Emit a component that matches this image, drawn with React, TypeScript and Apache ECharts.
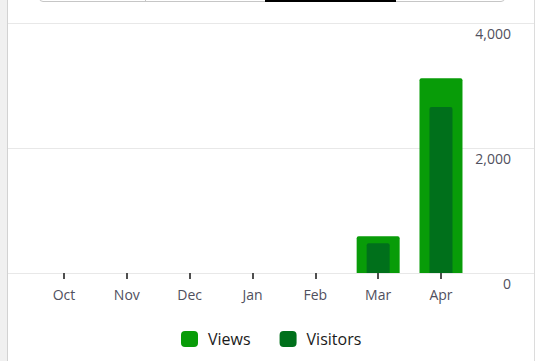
import React, { useEffect, useRef } from "react";
import * as echarts from "echarts";

const months = ["Oct", "Nov", "Dec", "Jan", "Feb", "Mar", "Apr"];
const views = [0, 0, 0, 0, 0, 590, 3115];
const visitors = [0, 0, 0, 0, 0, 478, 2655];
const yTicks = { min: 0, max: 4000, interval: 2000 };

const FONT = "'Open Sans', 'Noto Sans', sans-serif";
const VIEWS_COLOR = "#089c08";
const VISITORS_COLOR = "#00701b";

export default function App() {
  const ref = useRef<HTMLDivElement>(null);

  useEffect(() => {
    if (!ref.current) return;
    const chart = echarts.init(ref.current, undefined, { renderer: "svg" });
    const gridTop = 23;
    const gridHeight = 250;
    chart.setOption({
      animation: false,
      textStyle: { fontFamily: FONT },
      grid: [
        { left: 8, width: 526, top: gridTop, height: gridHeight },
        { left: 32.6, width: 439.8, top: gridTop, height: gridHeight },
      ],
      xAxis: [
        {
          type: "category",
          gridIndex: 0,
          data: months,
          show: false,
        },
        {
          type: "category",
          gridIndex: 1,
          data: months,
          axisLine: { show: false },
          axisTick: {
            show: true,
            alignWithLabel: true,
            length: 6,
            lineStyle: { color: "#4f4f4f", width: 2 },
          },
          axisLabel: {
            color: "#50505e",
            fontSize: 14,
            fontFamily: FONT,
            margin: 14,
          },
          splitLine: { show: false },
        },
        {
          type: "category",
          gridIndex: 1,
          data: months,
          show: false,
        },
      ],
      yAxis: [
        {
          type: "value",
          gridIndex: 0,
          position: "right",
          min: yTicks.min,
          max: yTicks.max,
          interval: yTicks.interval,
          axisLine: { show: false },
          axisTick: { show: false },
          splitLine: { show: true, lineStyle: { color: "#e8e8e8", width: 1 } },
          axisLabel: {
            inside: true,
            margin: 23,
            color: "#50505e",
            fontSize: 14,
            fontFamily: FONT,
            verticalAlign: "top",
            padding: [3, 0, 0, 0],
            formatter: (v: number) => v.toLocaleString("en-US"),
          },
        },
        {
          type: "value",
          gridIndex: 1,
          min: yTicks.min,
          max: yTicks.max,
          interval: yTicks.interval,
          show: false,
          splitLine: { show: false },
        },
      ],
      legend: {
        left: 181,
        top: 331,
        padding: 0,
        icon: "roundRect",
        itemWidth: 17,
        itemHeight: 16,
        itemGap: 29,
        selectedMode: false,
        textStyle: {
          color: "#1a1a1a",
          fontSize: 16,
          fontFamily: FONT,
          padding: [0, 0, 0, 5],
        },
        data: ["Views", "Visitors"],
      },
      series: [
        {
          name: "Views",
          type: "bar",
          xAxisIndex: 1,
          yAxisIndex: 1,
          data: views,
          barWidth: 43,
          itemStyle: { color: VIEWS_COLOR, borderRadius: [2, 2, 0, 0] },
          emphasis: { disabled: true },
          z: 2,
        },
        {
          name: "Visitors",
          type: "bar",
          xAxisIndex: 2,
          yAxisIndex: 1,
          data: visitors,
          barWidth: 23,
          itemStyle: { color: VISITORS_COLOR, borderRadius: [2, 2, 0, 0] },
          emphasis: { disabled: true },
          z: 3,
        },
      ],
    });
    return () => chart.dispose();
  }, []);

  return (
    <div
      style={{
        position: "fixed",
        left: 0,
        top: 0,
        width: 537,
        height: 361,
        background: "#ffffff",
        overflow: "hidden",
      }}
    >
      <div
        style={{
          position: "absolute",
          left: 0,
          top: 0,
          width: 7,
          height: 361,
          background: "#f0f0f0",
          borderRight: "1px solid #d2d2d2",
        }}
      />
      <div
        style={{
          position: "absolute",
          left: 534,
          top: 0,
          width: 1,
          height: 361,
          background: "#dcdcdc",
        }}
      />
      <div
        style={{
          position: "absolute",
          left: 39,
          top: -12,
          width: 464,
          height: 12,
          border: "1px solid #c6c6c6",
          borderRadius: 4,
        }}
      />
      <div
        style={{
          position: "absolute",
          left: 145,
          top: 0,
          width: 1,
          height: 1,
          background: "#c6c6c6",
        }}
      />
      <div
        style={{
          position: "absolute",
          left: 265,
          top: 0,
          width: 131,
          height: 2,
          background: "#000000",
        }}
      />
      <div
        ref={ref}
        style={{ position: "absolute", left: 0, top: 0, width: 537, height: 361 }}
      />
    </div>
  );
}
